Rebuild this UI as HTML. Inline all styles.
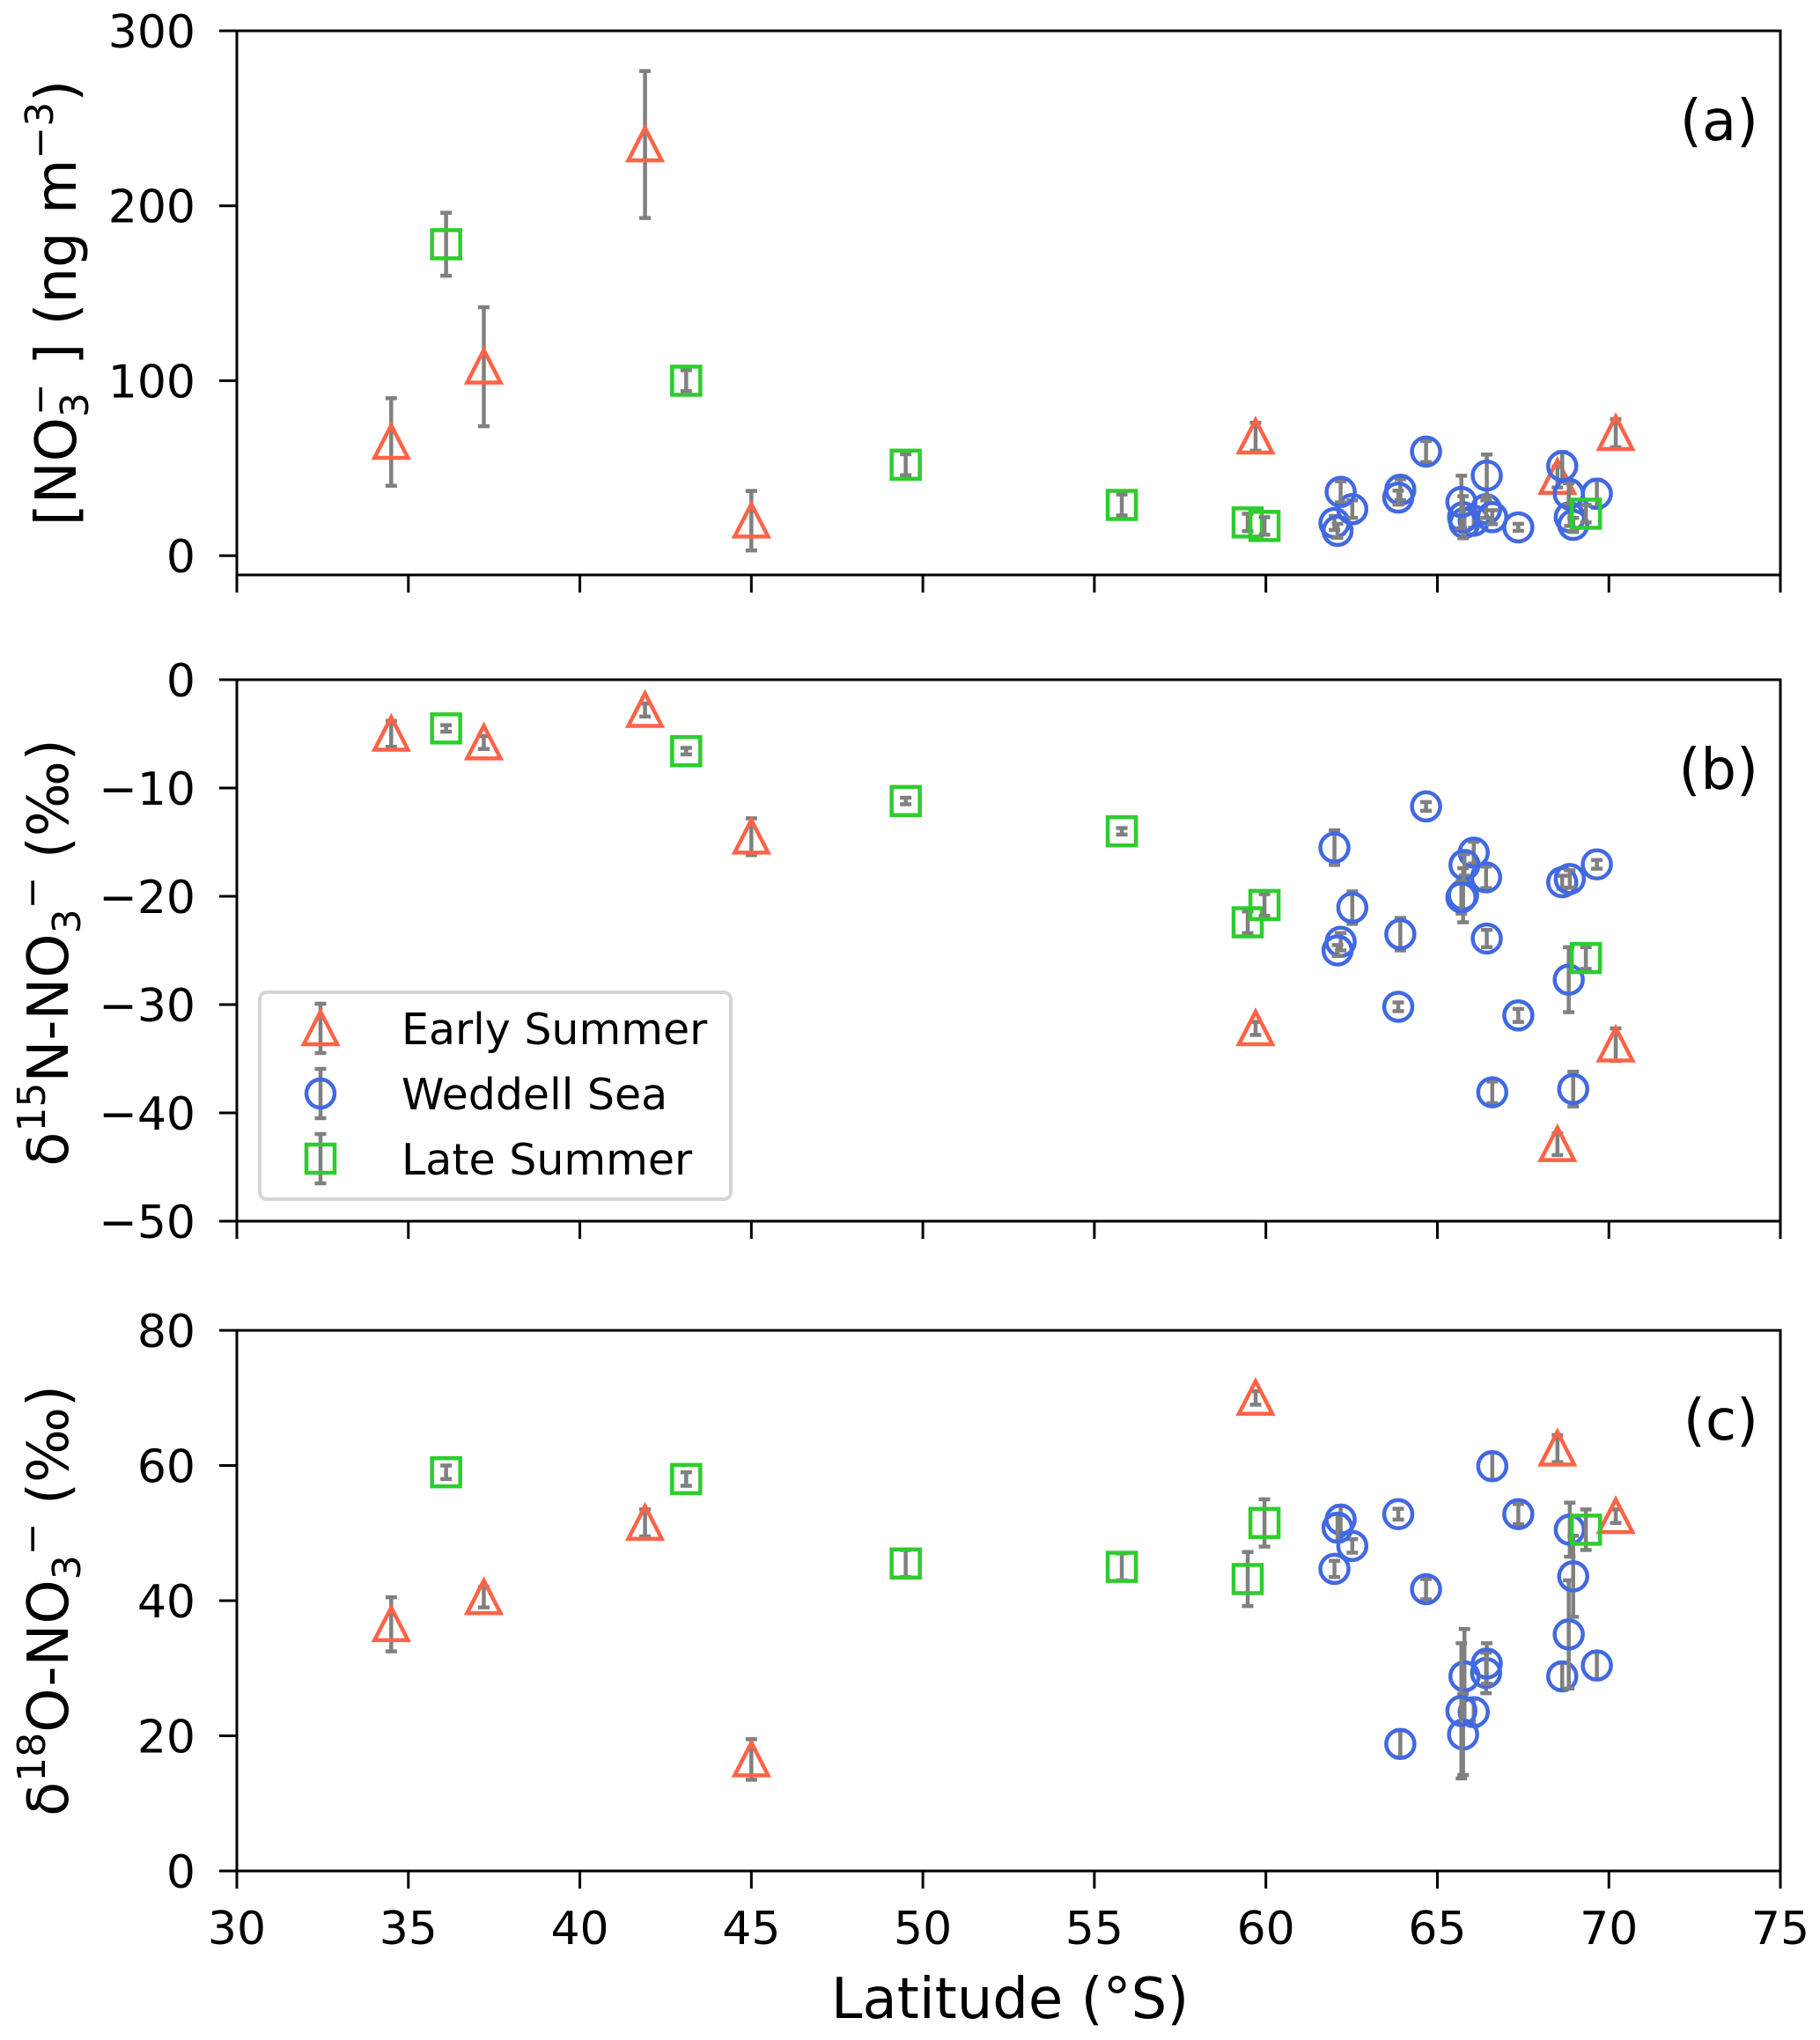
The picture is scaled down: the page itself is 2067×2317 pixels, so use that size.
<!DOCTYPE html>
<html><head><meta charset="utf-8"><style>
html,body{margin:0;padding:0;background:#fff;}
svg{display:block;font-family:"DejaVu Sans","Liberation Sans",sans-serif;}
</style></head><body>
<svg id="chart" width="2067" height="2317" viewBox="0 0 2067 2317" xmlns="http://www.w3.org/2000/svg">
<g id="layer"></g>
</svg>
<script>
// ---- data ----
const earlyLat = [34.5, 37.2, 41.9, 45.0, 59.7, 68.5, 70.2];
const earlyA = [65, 108, 235, 20, 68, 45, 70];
const earlyAerr = [25, 34, 42, 17, 8, 6, 8];
const earlyB = [-5, -5.8, -2.8, -14.5, -32.2, -42.9, -33.7];
const earlyBerr = [1.2, 0.6, 0.6, 1.7, 0.6, 1.0, 1.5];
const earlyC = [36.5, 40.5, 51.5, 16.5, 70, 62.5, 52.5];
const earlyCerr = [4, 1.5, 2, 3, 1, 2, 1];

const lateLat = [36.1, 43.1, 49.5, 55.8, 59.47, 59.96, 69.33];
const lateA = [178, 100, 52, 29, 19, 17, 24];
const lateAerr = [18, 6, 6, 6, 5, 5, 5];
const lateB = [-4.5, -6.6, -11.2, -14, -22.4, -20.8, -25.7];
const lateBerr = [0.3, 0.3, 0.3, 0.3, 1.0, 1.0, 1.0];
const lateC = [59, 58, 45.5, 45, 43.2, 51.5, 50.5];
const lateCerr = [1, 1, 2, 2, 4, 3.5, 3];

const wedLat = [62.0, 64.67, 66.06, 65.79, 66.42, 65.75, 65.7, 68.64, 68.86, 69.65, 62.52, 62.18, 62.09, 63.92, 66.44, 68.83, 63.86, 67.36, 66.6, 68.96];
const wedA = [18.7, 59.5, 20, 18.7, 26.6, 22, 30.7, 51.2, 22, 35.4, 26.6, 36.5, 14.2, 37.7, 45.8, 35.4, 33.2, 16.2, 22, 17.6];
const wedAerr = [4, 6, 4, 5, 5, 12, 15, 8, 5, 8, 5, 6, 4, 6, 12, 6, 4, 2, 4, 4];
const wedB = [-15.5, -11.7, -15.97, -17.1, -18.25, -19.9, -20.1, -18.7, -18.4, -17.05, -21.05, -24.2, -25.0, -23.5, -23.9, -27.7, -30.2, -31.0, -38.1, -37.8];
const wedBerr = [1.6, 0.4, 1.0, 1.0, 1.0, 2.5, 1.5, 0.6, 0.8, 0.4, 1.5, 0.8, 0.5, 1.5, 0.8, 3.0, 0.4, 0.6, 1.0, 1.6];
const wedC = [44.7, 41.7, 23.5, 28.8, 29.3, 20.2, 23.7, 28.8, 50.5, 30.4, 48.1, 52.0, 50.8, 18.8, 30.7, 35.0, 52.8, 52.8, 59.9, 43.6];
const wedCerr = [1.2, 1.5, 2, 7, 3, 6, 10, 2, 4, 2, 1, 2, 2, 2, 3, 8, 0.8, 1.5, 2, 6];

const xTicks = [30, 35, 40, 45, 50, 55, 60, 65, 70, 75];
const aTicks = [0, 100, 200, 300];
const bTicks = [0, -10, -20, -30, -40, -50];
const cTicks = [0, 20, 40, 60, 80];

// ---- layout ----
const NS = "http://www.w3.org/2000/svg";
const L = 269, R = 2022;
const xMin = 30, xMax = 75;
const panels = [
  {key:'a', top:35, bot:653, ymin:-11, ymax:300, ticks:aTicks, label:'(a)'},
  {key:'b', top:772, bot:1387, ymin:-50, ymax:0, ticks:bTicks, label:'(b)'},
  {key:'c', top:1511, bot:2125, ymin:0, ymax:80, ticks:cTicks, label:'(c)'}
];
const layer = document.getElementById('layer');
function el(tag, attrs, parent){
  const e = document.createElementNS(NS, tag);
  for (const k in attrs) e.setAttribute(k, attrs[k]);
  (parent||layer).appendChild(e);
  return e;
}
function xs(v){ return L + (v - xMin) / (xMax - xMin) * (R - L); }
function ysFor(p){ return v => p.bot - (v - p.ymin) / (p.ymax - p.ymin) * (p.bot - p.top); }

const RED = '#ff6347', BLUE = '#4169e1', GREEN = '#2ecc2e', GRAY = '#808080';

function marker(g, kind, cx, cy){
  let m;
  if (kind === 'tri') {
    m = el('polygon', {points:`${cx},${cy-19} ${cx-19},${cy+18} ${cx+19},${cy+18}`, fill:'none', stroke:RED, 'stroke-width':4.5}, g);
  } else if (kind === 'circ') {
    m = el('circle', {cx:cx, cy:cy, r:16, fill:'none', stroke:BLUE, 'stroke-width':4.5}, g);
  } else {
    m = el('rect', {x:cx-16, y:cy-16, width:32, height:32, fill:'none', stroke:GREEN, 'stroke-width':4.5}, g);
  }
  return m;
}
function errbar(g, cx, y1, y2){
  el('line', {x1:cx, y1:y1, x2:cx, y2:y2, stroke:GRAY, 'stroke-width':4.5}, g);
  el('line', {x1:cx-6.5, y1:y1, x2:cx+6.5, y2:y1, stroke:GRAY, 'stroke-width':4.5}, g);
  el('line', {x1:cx-6.5, y1:y2, x2:cx+6.5, y2:y2, stroke:GRAY, 'stroke-width':4.5}, g);
}
function series(p, name, kind, lat, vals, errs){
  const ys = ysFor(p);
  const g = el('g', {});
  
  
  for (let i = 0; i < lat.length; i++) {
    const pg = el('g', {}, g);
    
    
    const cx = xs(lat[i]);
    errbar(pg, cx, ys(vals[i] + errs[i]), ys(vals[i] - errs[i]));
    marker(pg, kind, cx, ys(vals[i]));
  }
}

panels.forEach(p => {
  const ys = ysFor(p);
  const ax = el('g', {});
  
  
  xTicks.forEach(t => {
    el('line', {x1:xs(t), y1:p.bot, x2:xs(t), y2:p.bot+20, stroke:'#000', 'stroke-width':3}, ax);
    if (p.key === 'c') {
      const tx = el('text', {x:xs(t), y:p.bot+83, 'font-size':52, 'text-anchor':'middle', fill:'#000'}, ax);
      
      
      tx.textContent = t;
    }
  });
  p.ticks.forEach(t => {
    el('line', {x1:L-20, y1:ys(t), x2:L, y2:ys(t), stroke:'#000', 'stroke-width':3}, ax);
    const tx = el('text', {x:222, y:ys(t)+19, 'font-size':52, 'text-anchor':'end', fill:'#000'}, ax);
    
    
    tx.textContent = t < 0 ? '\u2212' + Math.abs(t) : t;
  });
  const lab = el('text', {x:1997, y:p.top+124, 'font-size':64, 'text-anchor':'end', fill:'#000'}, ax);
  
  
  lab.textContent = p.label;
});

series(panels[0], 'early-summer', 'tri', earlyLat, earlyA, earlyAerr);
series(panels[0], 'weddell-sea', 'circ', wedLat, wedA, wedAerr);
series(panels[0], 'late-summer', 'sq', lateLat, lateA, lateAerr);
series(panels[1], 'early-summer', 'tri', earlyLat, earlyB, earlyBerr);
series(panels[1], 'weddell-sea', 'circ', wedLat, wedB, wedBerr);
series(panels[1], 'late-summer', 'sq', lateLat, lateB, lateBerr);
series(panels[2], 'early-summer', 'tri', earlyLat, earlyC, earlyCerr);
series(panels[2], 'weddell-sea', 'circ', wedLat, wedC, wedCerr);
series(panels[2], 'late-summer', 'sq', lateLat, lateC, lateCerr);

panels.forEach(p => {
  const f = el('rect', {x:L, y:p.top, width:R-L, height:p.bot-p.top, fill:'none', stroke:'#000', 'stroke-width':3});
  
  
});

// legend
const lg = el('g', {});


el('rect', {x:295, y:1127, width:535, height:235, rx:8, fill:'#fff', stroke:'#d6d6d6', 'stroke-width':4}, lg);
const legNames = ['Early Summer', 'Weddell Sea', 'Late Summer'];
const legKinds = ['tri', 'circ', 'sq'];
legNames.forEach((n, i) => {
  const cy = 1168 + i * 74;
  const eg = el('g', {}, lg);
  
  
  errbar(eg, 364, cy - 28, cy + 28);
  marker(eg, legKinds[i], 364, cy);
  const t = el('text', {x:456, y:cy + 18, 'font-size':49, fill:'#000'}, eg);
  t.textContent = n;
});
</script>
<script>
(function(){
  const svg = document.getElementById('chart');
  const NS = "http://www.w3.org/2000/svg";
  function txt(attrs, html, name){
    const t = document.createElementNS(NS, 'text');
    for (const k in attrs) t.setAttribute(k, attrs[k]);
    t.innerHTML = html;
    
    
    svg.appendChild(t);
  }
  txt({x:1147, y:2292, 'font-size':64, 'text-anchor':'middle', fill:'#000'}, 'Latitude (°S)', 'x-axis-title');
  txt({x:0, y:0, 'font-size':64, 'text-anchor':'middle', fill:'#000', transform:'translate(86,344) rotate(-90)'},
    '[NO<tspan font-size="44" dy="14">3</tspan><tspan font-size="44" dx="-26" dy="-40">\u2212</tspan><tspan dy="26"> ] (ng m</tspan><tspan font-size="44" dy="-26">\u22123</tspan><tspan dy="26">)</tspan>', 'y-axis-title-a');
  txt({x:0, y:0, 'font-size':64, 'text-anchor':'middle', fill:'#000', transform:'translate(77,1082) rotate(-90)'},
    'δ<tspan font-size="44" dy="-26">15</tspan><tspan dy="26">N-NO</tspan><tspan font-size="44" dy="14">3</tspan><tspan font-size="44" dy="-40">\u2212</tspan><tspan dy="26"> (‰)</tspan>', 'y-axis-title-b');
  txt({x:0, y:0, 'font-size':64, 'text-anchor':'middle', fill:'#000', transform:'translate(77,1818) rotate(-90)'},
    'δ<tspan font-size="44" dy="-26">18</tspan><tspan dy="26">O-NO</tspan><tspan font-size="44" dy="14">3</tspan><tspan font-size="44" dy="-40">\u2212</tspan><tspan dy="26"> (‰)</tspan>', 'y-axis-title-c');
})();
</script>
</body></html>
